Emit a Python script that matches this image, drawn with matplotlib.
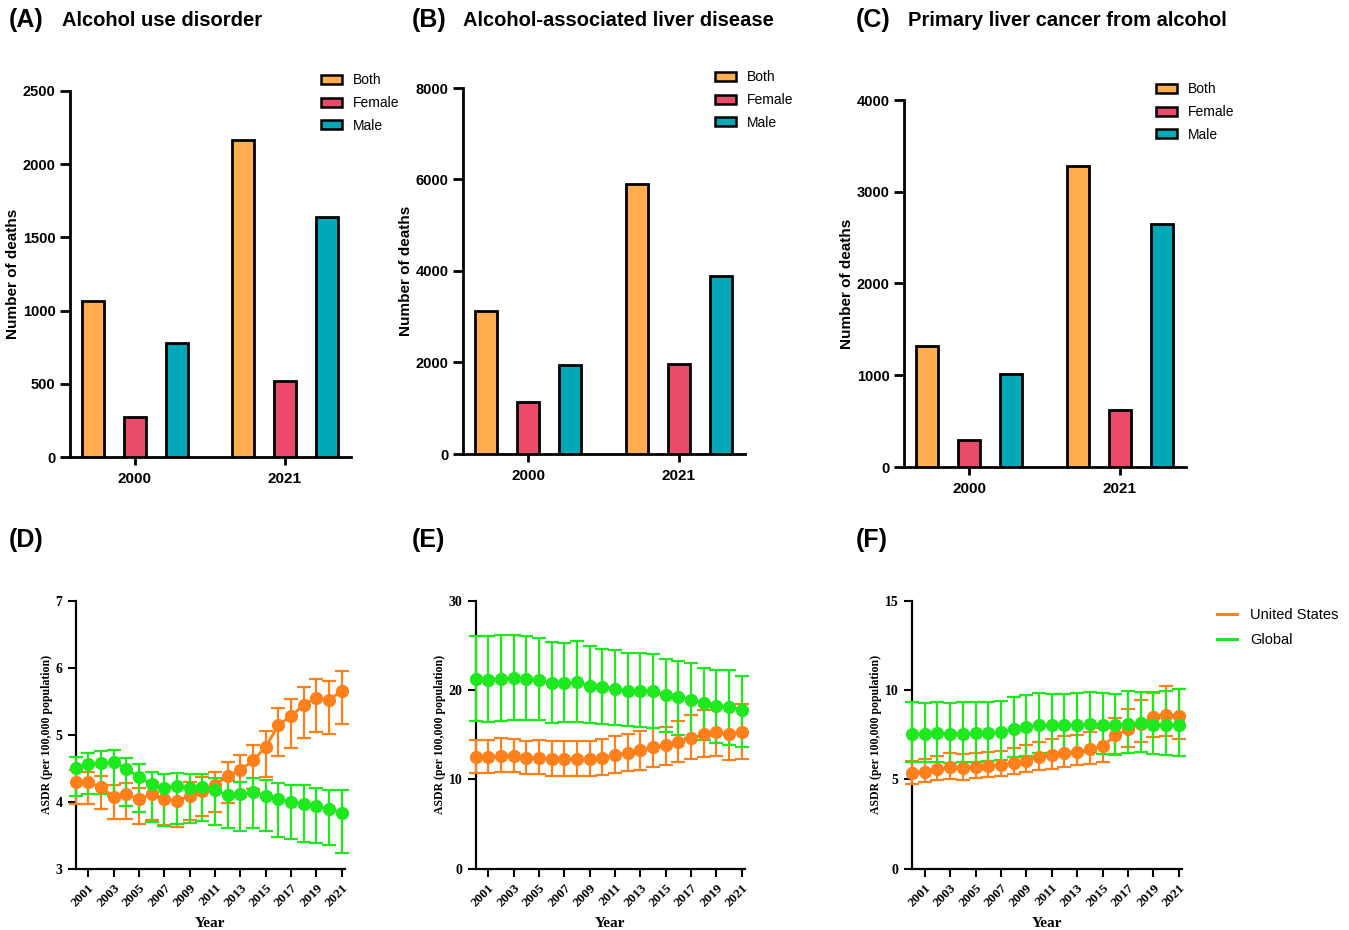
import matplotlib
matplotlib.use("Agg")
import matplotlib.pyplot as plt
from matplotlib.patches import Patch
from matplotlib.lines import Line2D
import numpy as np

# ---------------- data ----------------
bar_groups = ["2000", "2021"]
sexes = ["Both", "Female", "Male"]
sex_colors = ["#FFAD4F", "#EB4B6B", "#00A8B8"]

aud_both = [1066, 2168]
aud_female = [273, 516]
aud_male = [782, 1641]

ald_both = [3118, 5909]
ald_female = [1129, 1974]
ald_male = [1953, 3898]

plc_both = [1324, 3280]
plc_female = [291, 618]
plc_male = [1018, 2647]

years = list(range(2000, 2022))
year_ticks = list(range(2001, 2022, 2))

# D: alcohol use disorder ASDR
d_us = [4.29, 4.29, 4.22, 4.07, 4.11, 4.04, 4.11, 4.04, 4.01, 4.09, 4.16, 4.25,
        4.39, 4.47, 4.62, 4.82, 5.15, 5.28, 5.45, 5.55, 5.52, 5.66]
d_us_hi = [4.47, 4.45, 4.38, 4.25, 4.28, 4.21, 4.29, 4.23, 4.21, 4.29, 4.37, 4.45,
           4.59, 4.70, 4.85, 5.06, 5.40, 5.54, 5.72, 5.83, 5.81, 5.95]
d_us_lo = [3.97, 3.96, 3.89, 3.75, 3.75, 3.67, 3.73, 3.66, 3.63, 3.73, 3.78, 3.85,
           3.98, 4.07, 4.19, 4.37, 4.69, 4.81, 4.96, 5.05, 5.02, 5.16]
d_gl = [4.50, 4.56, 4.58, 4.60, 4.49, 4.37, 4.26, 4.20, 4.24, 4.21, 4.22, 4.17,
        4.10, 4.11, 4.14, 4.09, 4.04, 3.99, 3.97, 3.93, 3.89, 3.83]
d_gl_hi = [4.67, 4.73, 4.76, 4.78, 4.66, 4.56, 4.44, 4.41, 4.43, 4.41, 4.42, 4.35,
           4.32, 4.30, 4.36, 4.32, 4.28, 4.25, 4.25, 4.21, 4.18, 4.17]
d_gl_lo = [4.08, 4.12, 4.12, 4.09, 3.94, 3.84, 3.70, 3.64, 3.67, 3.69, 3.72, 3.65,
           3.61, 3.57, 3.61, 3.56, 3.48, 3.44, 3.40, 3.39, 3.35, 3.24]

# E: alcohol-associated liver disease ASDR
e_us = [12.55, 12.55, 12.66, 12.66, 12.44, 12.44, 12.29, 12.25, 12.29, 12.25, 12.44,
        12.78, 12.96, 13.26, 13.63, 13.82, 14.23, 14.60, 15.05, 15.32, 15.09, 15.35]
e_us_hi = [14.38, 14.38, 14.64, 14.57, 14.34, 14.42, 14.27, 14.30, 14.34, 14.27, 14.53,
           14.90, 15.09, 15.39, 15.80, 15.90, 16.55, 17.26, 17.78, 18.34, 18.15, 18.42]
e_us_lo = [10.72, 10.72, 10.87, 10.80, 10.65, 10.65, 10.42, 10.42, 10.42, 10.35, 10.50,
           10.76, 10.91, 11.09, 11.43, 11.65, 11.92, 12.25, 12.48, 12.66, 12.18, 12.33]
e_gl = [21.25, 21.20, 21.30, 21.37, 21.30, 21.20, 20.77, 20.77, 20.92, 20.47, 20.32,
        20.17, 19.95, 19.95, 19.95, 19.42, 19.20, 18.90, 18.60, 18.27, 18.08, 17.78]
e_gl_hi = [26.10, 26.07, 26.15, 26.22, 26.07, 25.80, 25.40, 25.33, 25.48, 24.99, 24.65,
           24.50, 24.20, 24.20, 24.06, 23.53, 23.27, 23.00, 22.50, 22.26, 22.26, 21.60]
e_gl_lo = [16.55, 16.44, 16.50, 16.70, 16.70, 16.66, 16.30, 16.47, 16.47, 16.36, 16.17,
           16.06, 15.99, 15.90, 15.80, 15.28, 15.02, 14.68, 14.38, 14.05, 13.90, 13.60]

# F: primary liver cancer from alcohol ASDR
f_us = [5.38, 5.44, 5.57, 5.68, 5.62, 5.68, 5.75, 5.79, 5.94, 6.05, 6.28, 6.39,
        6.48, 6.56, 6.69, 6.87, 7.47, 7.81, 8.11, 8.52, 8.63, 8.54]
f_us_hi = [6.05, 6.13, 6.33, 6.50, 6.43, 6.48, 6.54, 6.61, 6.76, 6.95, 7.12, 7.29,
           7.42, 7.51, 7.64, 7.86, 8.46, 8.95, 9.45, 9.83, 10.24, 10.09]
f_us_lo = [4.74, 4.84, 4.95, 5.04, 4.99, 5.06, 5.14, 5.17, 5.31, 5.42, 5.53, 5.60,
           5.72, 5.79, 5.88, 5.98, 6.45, 6.80, 7.12, 7.40, 7.44, 7.29]
f_gl = [7.55, 7.55, 7.58, 7.57, 7.57, 7.58, 7.58, 7.64, 7.81, 7.96, 8.03, 8.03,
        8.03, 8.07, 8.10, 8.07, 8.07, 8.10, 8.15, 8.05, 8.03, 8.05]
f_gl_hi = [9.32, 9.27, 9.34, 9.28, 9.34, 9.34, 9.34, 9.40, 9.62, 9.73, 9.86, 9.81,
           9.79, 9.84, 9.90, 9.83, 9.77, 9.98, 9.90, 9.90, 9.94, 10.07]
f_gl_lo = [5.96, 5.96, 5.96, 5.90, 5.96, 5.96, 6.03, 6.09, 6.24, 6.33, 6.50, 6.46,
           6.46, 6.50, 6.52, 6.45, 6.39, 6.48, 6.54, 6.41, 6.39, 6.33]

us_color = "#FF801A"
gl_color = "#1EE81E"

# ---------------- figure ----------------
plt.rcParams["font.family"] = ["Liberation Sans", "DejaVu Sans"]
fig = plt.figure(figsize=(13.49, 9.30), dpi=100)
W, H = 1349.0, 930.0


def ax_at(l, r, t, b):
    return fig.add_axes([l / W, 1 - b / H, (r - l) / W, (b - t) / H])


def bar_panel(ax, both, female, male, ymax, yticks, legend_y):
    x = np.arange(len(bar_groups))
    offs = [-0.28, 0.0, 0.28]
    for vals, off, col in zip([both, female, male], offs, sex_colors):
        ax.bar(x + off, vals, width=0.145, color=col, edgecolor="black",
               linewidth=2.0, zorder=3)
    ax.set_xlim(-0.433, 1.44)
    ax.set_ylim(0, ymax)
    ax.set_yticks(yticks)
    ax.set_xticks(x)
    ax.set_xticklabels(bar_groups, fontsize=11, fontweight="bold")
    ax.tick_params(axis="y", labelsize=10.5, width=2, length=7, direction="out")
    ax.tick_params(axis="x", width=2, length=6, direction="out", pad=5)
    for lab in ax.get_yticklabels():
        lab.set_fontweight("bold")
    for s in ["top", "right"]:
        ax.spines[s].set_visible(False)
    for s in ["left", "bottom"]:
        ax.spines[s].set_linewidth(2)
    ax.set_ylabel("Number of deaths", fontsize=11, fontweight="bold", labelpad=2)
    handles = [Patch(facecolor=c, edgecolor="black", linewidth=1.8) for c in sex_colors]
    ax.legend(handles, sexes, loc="upper left", bbox_to_anchor=(0.875, legend_y),
              frameon=False, fontsize=10, handlelength=1.5, handleheight=0.6,
              labelspacing=0.62, handletextpad=0.75, borderaxespad=0)


axA = ax_at(70, 351, 91, 457)
bar_panel(axA, aud_both, aud_female, aud_male, 2500, [0, 500, 1000, 1500, 2000, 2500], 1.063)
axB = ax_at(463, 745, 88, 454)
bar_panel(axB, ald_both, ald_female, ald_male, 8000, [0, 2000, 4000, 6000, 8000], 1.063)
axC = ax_at(904, 1186, 100, 467)
bar_panel(axC, plc_both, plc_female, plc_male, 4000, [0, 1000, 2000, 3000, 4000], 1.063)

serif = ["Liberation Serif", "DejaVu Serif"]


def line_panel(ax, us, us_lo, us_hi, gl, gl_lo, gl_hi, ylim, yticks):
    for vals, lo, hi, col in [(us, us_lo, us_hi, us_color), (gl, gl_lo, gl_hi, gl_color)]:
        v = np.array(vals)
        err = np.vstack([v - np.array(lo), np.array(hi) - v])
        ax.errorbar(years, v, yerr=err, color=col, marker="o", markersize=8.5,
                    linewidth=2, elinewidth=1.6, capsize=5, capthick=1.6,
                    zorder=3, clip_on=False)
    ax.set_xlim(2000, 2021.25)
    ax.set_ylim(*ylim)
    ax.set_yticks(yticks)
    ax.set_xticks(year_ticks)
    ax.set_xticklabels([str(y) for y in year_ticks], rotation=45, ha="right",
                       rotation_mode="anchor", family=serif, fontweight="bold", fontsize=9.5)
    for lab in ax.get_yticklabels():
        lab.set_family(serif)
        lab.set_fontweight("bold")
        lab.set_fontsize(10)
    ax.tick_params(axis="both", width=1.5, length=6, direction="out")
    for s in ["top", "right"]:
        ax.spines[s].set_visible(False)
    for s in ["left", "bottom"]:
        ax.spines[s].set_linewidth(1.6)
    ax.set_ylabel("ASDR (per 100,000 population)", family=serif, fontweight="bold",
                  fontsize=8.5, labelpad=2)
    ax.set_xlabel("Year", family=serif, fontweight="bold", fontsize=11, labelpad=6)


axD = ax_at(75.7, 345, 601, 868.7)
line_panel(axD, d_us, d_us_lo, d_us_hi, d_gl, d_gl_lo, d_gl_hi, (3, 7), [3, 4, 5, 6, 7])
axE = ax_at(475.7, 745, 601, 868.7)
line_panel(axE, e_us, e_us_lo, e_us_hi, e_gl, e_gl_lo, e_gl_hi, (0, 30), [0, 10, 20, 30])
axF = ax_at(912, 1182, 601, 868.7)
line_panel(axF, f_us, f_us_lo, f_us_hi, f_gl, f_gl_lo, f_gl_hi, (0, 15), [0, 5, 10, 15])

leg_handles = [Line2D([0], [0], color=us_color, lw=2.2), Line2D([0], [0], color=gl_color, lw=2.2)]
fig.legend(leg_handles, ["United States", "Global"], loc="upper left",
           bbox_to_anchor=(1214 / W, 1 - 605 / H), frameon=False, fontsize=10.5,
           handlelength=1.4, labelspacing=0.75, handletextpad=0.9, borderaxespad=0,
           borderpad=0.2)

# panel letters and titles
letters = [("(A)", 9, 20, "Alcohol use disorder", 62),
           ("(B)", 412, 20, "Alcohol-associated liver disease", 463),
           ("(C)", 856, 20, "Primary liver cancer from alcohol", 908),
           ("(D)", 9, 540, None, None),
           ("(E)", 412, 540, None, None),
           ("(F)", 856, 540, None, None)]
for lab, lx, ly, title, tx in letters:
    fig.text(lx / W, 1 - ly / H, lab, fontsize=18, fontweight="bold", va="center", ha="left")
    if title:
        fig.text(tx / W, 1 - ly / H, title, fontsize=14.5, fontweight="bold", va="center", ha="left")

fig.savefig("out.png", dpi=100)
